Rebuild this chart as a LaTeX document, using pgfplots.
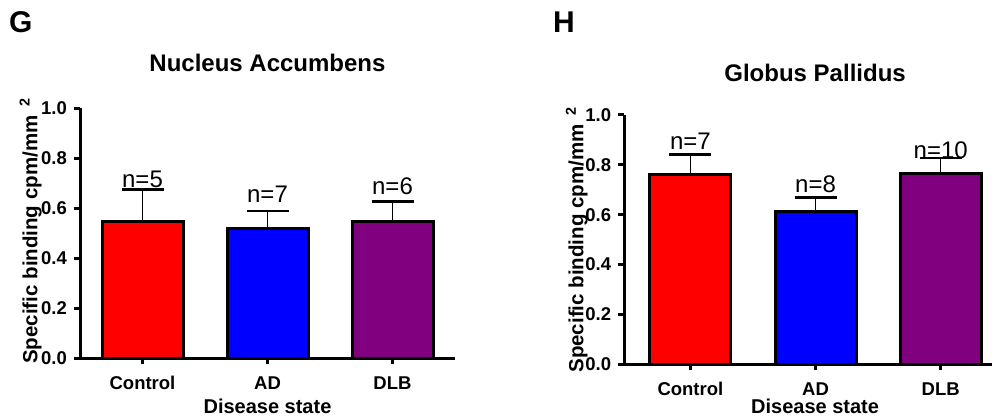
\documentclass[border=0pt]{standalone}
\usepackage{pgfplots}
\pgfplotsset{compat=1.18}
\usepackage{fontspec}
\setmainfont{Liberation Sans}
\definecolor{cred}{RGB}{255,0,0}
\definecolor{cblue}{RGB}{0,0,255}
\definecolor{cpurple}{RGB}{128,0,128}

\pgfplotsset{
  panel/.style={
    scale only axis, height=250pt,
    axis x line=bottom, axis y line=left,
    axis line style={-, line width=3pt, black},
    ymin=0, ymax=1,
    ytick={0,0.2,0.4,0.6,0.8,1.0},
    xtick={0,1,2},
    xticklabels={Control,AD,DLB},
    tick align=outside,
    major tick length=6pt,
    tick style={line width=3pt, black},
    y tick label style={/pgf/number format/.cd, fixed, fixed zerofill, precision=1, assume math mode=true, /tikz/.cd, font=\bfseries\fontsize{18.5}{18.5}\selectfont, anchor=east, inner sep=0pt, xshift=-7pt},
    x tick label style={font=\bfseries\fontsize{18.5}{18.5}\selectfont, anchor=base, inner sep=0pt},
    title style={font=\bfseries\fontsize{24}{24}\selectfont, anchor=base},
    xlabel style={font=\bfseries\fontsize{20}{20}\selectfont, anchor=base, inner sep=0pt},
    ylabel style={font=\bfseries\fontsize{20.5}{20.5}\selectfont, anchor=base},
    ylabel={Specific binding cpm/mm\hspace{0.45em}\textsuperscript{2}},
    xlabel={Disease state},
  },
  mybar/.style={ybar, bar width=81pt, bar shift=0pt, draw=black, line width=3pt, fill=#1,
    error bars/.cd, y dir=plus, y explicit,
    error bar style={line width=1.5pt, black},
    error mark options={rotate=90, mark size=21pt, line width=2.7pt, black}},
  nlab/.style={draw=none, mark=none, nodes near coords, point meta=explicit symbolic,
    nodes near coords style={anchor=base, inner sep=0pt, font=\fontsize{24}{24}\selectfont}},
}

\begin{document}
\begin{tikzpicture}
\useasboundingbox (0,0) rectangle (992pt,418pt);
\node[anchor=base west, inner sep=0pt, font=\bfseries\fontsize{30}{30}\selectfont] at (9pt,385pt) {G};
\node[anchor=base west, inner sep=0pt, font=\bfseries\fontsize{30}{30}\selectfont] at (553pt,385pt) {H};

% Left panel: Nucleus Accumbens
\begin{axis}[panel, at={(80pt,59.7pt)}, anchor=south west,
  width=375pt, xmin=-0.5, xmax=2.5,
  title={Nucleus Accumbens},
  title style={at={(axis description cs:0.5,1.125)}},
  xlabel style={at={(axis description cs:0.5,-0.22)}},
  ylabel style={at={(axis description cs:-0.114,0.51)}},
  x tick label style={yshift=-25pt},
]
\addplot[mybar=cred] coordinates {(0,0.549) +- (0,0.126)};
\addplot[mybar=cblue] coordinates {(1,0.519) +- (0,0.070)};
\addplot[mybar=cpurple] coordinates {(2,0.547) +- (0,0.080)};
\addplot[nlab] coordinates {(0,0.683) [n=5] (1,0.623) [n=7] (2,0.656) [n=6]};
\end{axis}

% Right panel: Globus Pallidus
\begin{axis}[panel, at={(624.3pt,53.7pt)}, anchor=south west,
  width=369pt, xmin=-0.528, xmax=2.42, height=249.3pt,
  title={Globus Pallidus},
  title style={at={(axis description cs:0.517,1.112)}},
  xlabel style={at={(axis description cs:0.517,-0.197)}},
  ylabel style={at={(axis description cs:-0.111,0.50)}},
  x tick label style={yshift=-25pt},
]
\addplot[mybar=cred] coordinates {(0,0.762) +- (0,0.080)};
\addplot[mybar=cblue] coordinates {(1,0.611) +- (0,0.057)};
\addplot[mybar=cpurple] coordinates {(2,0.766) +- (0,0.061)};
\addplot[nlab] coordinates {(0,0.860) [n=7] (1,0.688) [n=8] (2,0.826) [n=10]};
\end{axis}
\end{tikzpicture}
\end{document}
